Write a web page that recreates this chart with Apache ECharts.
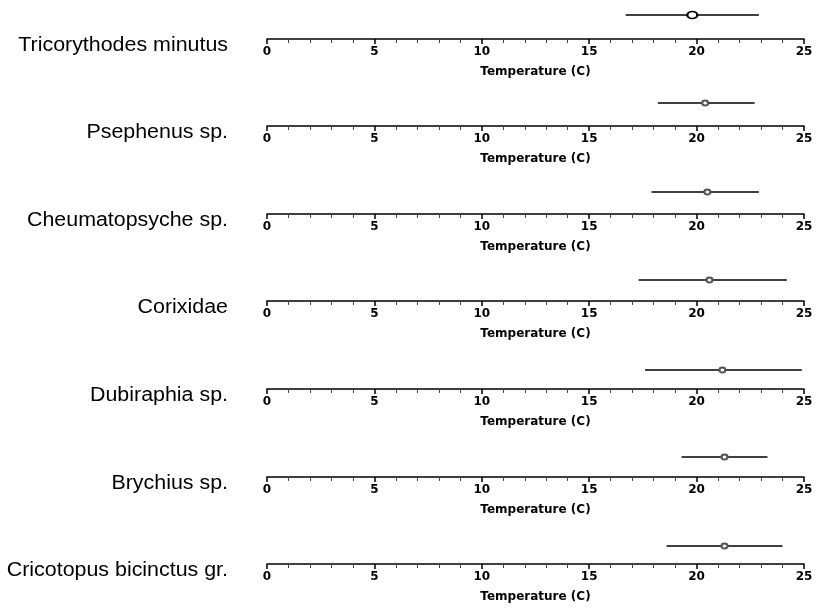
<!DOCTYPE html>
<html><head><meta charset="utf-8">
<script src="https://cdn.jsdelivr.net/npm/echarts@6/dist/echarts.min.js"></script>
<style>html,body{margin:0;padding:0;background:#fff}#c{width:820px;height:612px}</style>
</head><body><div id="c"></div>
<script>
var species = ['Tricorythodes minutus','Psephenus sp.','Cheumatopsyche sp.','Corixidae','Dubiraphia sp.','Brychius sp.','Cricotopus bicinctus gr.'];
var rangeMin = [16.7, 18.2, 17.9, 17.3, 17.6, 19.3, 18.6];
var rangeMax = [22.9, 22.7, 22.9, 24.2, 24.9, 23.3, 24.0];
var center = [19.8, 20.4, 20.5, 20.6, 21.2, 21.3, 21.3];
var tickLabels = ['0','5','10','15','20','25'];
var axisTitle = 'Temperature (C)';

var axisY = [39, 126, 214, 301, 389, 477, 564];
var lineY = [15, 103, 192, 280, 370, 457, 546];

var grids=[], xAxes=[], yAxes=[], series=[], graphics=[];
species.forEach(function(name,i){
  grids.push({left:267, right:16, top:lineY[i], height:axisY[i]-lineY[i]});
  xAxes.push({gridIndex:i, type:'value', min:0, max:25, interval:5,
    axisLine:{show:true, lineStyle:{color:'#000', width:1.5}},
    axisTick:{show:true, length:5, lineStyle:{color:'#000', width:1.5}},
    minorTick:{show:true, splitNumber:5, length:4, lineStyle:{color:'#444', width:1}},
    splitLine:{show:false},
    axisLabel:{margin:7, color:'#000', fontFamily:'DejaVu Sans', fontSize:12, fontWeight:'bold',
      formatter:function(v){return tickLabels[Math.round(v/5)];}},
    name:axisTitle, nameLocation:'middle', nameGap:27,
    nameTextStyle:{color:'#000', fontFamily:'DejaVu Sans', fontSize:12, fontWeight:'bold'}
  });
  yAxes.push({gridIndex:i, type:'value', min:0, max:1, show:false});
  series.push({type:'line', xAxisIndex:i, yAxisIndex:i, symbol:'none', silent:true, clip:false,
    lineStyle:{color:'#000', width:1.5},
    data:[[rangeMin[i],1],[rangeMax[i],1]]});
  series.push({type:'scatter', xAxisIndex:i, yAxisIndex:i, symbol:'emptyCircle', clip:false, z:5,
    symbolSize: i===0?[10,7]:[6,5],
    itemStyle:{color: i===0?'#000':'#555', borderWidth:1, opacity:1},
    data:[[center[i],1]]});
  graphics.push({type:'text', x:228, y:axisY[i]+6, scaleX:1.07,
    style:{text:name, fill:'#000', font:'20px "Liberation Sans", Arial, sans-serif', textAlign:'right', textVerticalAlign:'middle'}});
});

var chart = echarts.init(document.getElementById('c'), null, {renderer:'canvas'});
chart.setOption({
  animation:false,
  backgroundColor:'#fff',
  grid:grids, xAxis:xAxes, yAxis:yAxes, series:series, graphic:graphics
});
</script></body></html>
